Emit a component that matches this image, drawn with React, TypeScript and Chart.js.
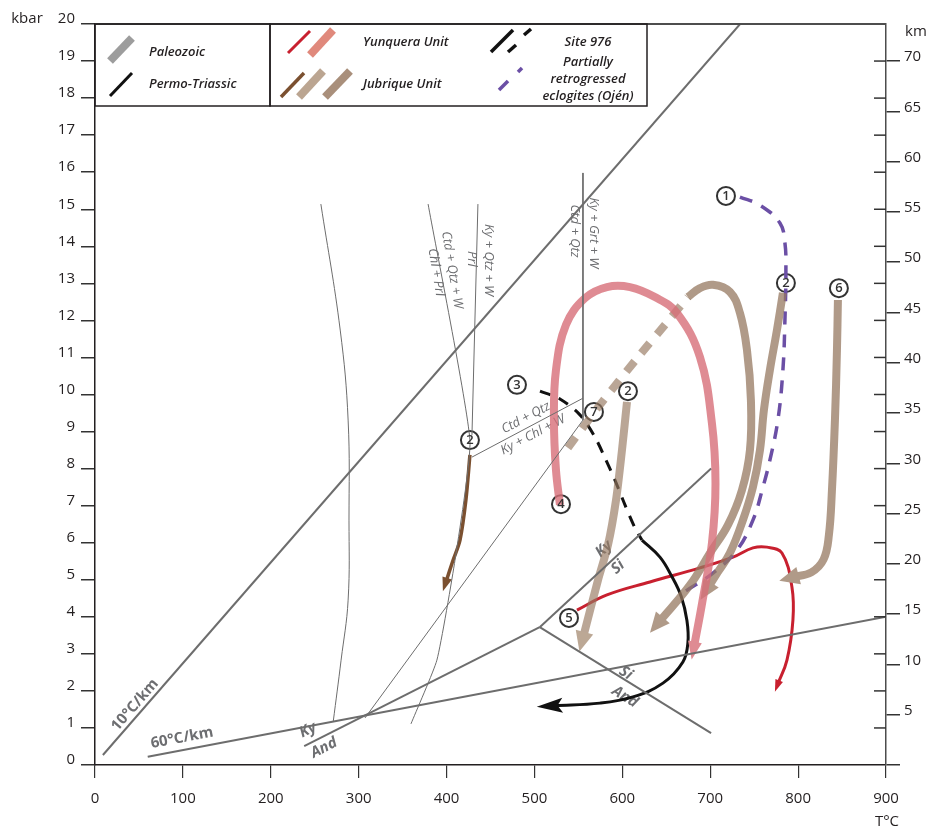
import React, { useEffect, useRef } from 'react';
import { Chart, registerables } from 'chart.js';
Chart.register(...registerables);

type Pt = [number, number];

// ---------- axis ranges (T in °C, P in kbar, depth in km) ----------
const T_MIN = 0, T_MAX = 900, T_STEP = 100;
const P_MIN = 0, P_MAX = 20, P_STEP = 1;
const KM_PER_KBAR = 3.684;
const KM_STEP = 5;

// ---------- reference lines ----------
const geotherm10: Pt[] = [[9, 0.27], [734, 20]];
const geotherm60: Pt[] = [[60, 0.22], [900, 4.0]];
const kyAnd: Pt[] = [[238, 0.51], [506, 3.72]];
const kySi: Pt[] = [[506, 3.72], [701, 8.0]];
const siAnd: Pt[] = [[506, 3.72], [701, 0.86]];
const prlLine: Pt[] = [[257, 15.14], [279, 11.74], [288, 9.31], [289, 6.61], [288, 4.45], [280, 2.83], [271, 1.16]];
const chlPrlLine: Pt[] = [[379, 15.14], [426.6, 8.77], [409.6, 5.53], [389, 2.83], [359.5, 1.11]];
const kyQtzLine: Pt[] = [[435.7, 15.14], [428.9, 8.91]];
const ctdKyChlLine: Pt[] = [[428.9, 8.31], [555.2, 9.9]];
const kyGrtLine: Pt[] = [[555.2, 15.98], [555.2, 9.31]];
const diagLine: Pt[] = [[555.2, 9.31], [307.2, 1.27]];

// ---------- P-T paths ----------
const yunqueraThick: Pt[] = [[529, 7.02], [524.5, 7.96], [522.2, 9.31], [524.5, 10.66], [535.9, 11.88], [557.5, 12.6], [582.5, 12.9], [608.7, 12.9], [637.1, 12.63], [662.1, 12.2], [688.3, 11.01], [701.9, 9.23], [706, 7.6], [702, 6.0], [691, 4.4], [681.5, 3.18]];
const yunqueraThin: Pt[] = [[548.4, 4.18], [582.5, 4.59], [631.4, 4.94], [688.3, 5.32], [725.9, 5.61], [748.6, 5.86], [764.5, 5.88], [781.6, 5.72], [793, 4.8], [794.1, 3.91], [787.3, 2.83], [777, 2.19]];
const site976Dashed: Pt[] = [[506.3, 10.09], [529, 9.88], [551.8, 9.45], [568.9, 8.85], [580.2, 8.29], [591.6, 7.69], [603, 7.02], [614.4, 6.4], [622.3, 6.07]];
const site976Solid: Pt[] = [[622.3, 6.07], [642.8, 5.61], [656, 5.1], [667, 4.55], [673.5, 3.9], [674.6, 3.3], [668.9, 2.78], [646.2, 2.21], [612.1, 1.84], [574.5, 1.67], [523.3, 1.6]];
const jubriqueThin: Pt[] = [[426.6, 8.37], [422, 7.15], [415.3, 6.07], [407, 5.5], [399.3, 4.94]];
const jubriqueA: Pt[] = [[605.3, 9.8], [599.6, 8.5], [592.8, 7.15], [583.7, 5.94], [572.3, 4.99], [555.2, 3.43]];
const jubriqueDashed: Pt[] = [[538.1, 8.56], [574.5, 9.72], [620, 11.07], [648.5, 11.88], [674.6, 12.63]];
const jubriqueLoop: Pt[] = [[674.6, 12.63], [688.3, 12.87], [703.1, 12.96], [722.4, 12.77], [733.8, 12.2], [741.8, 11.2], [746.3, 9.85], [745.2, 8.5], [736.1, 7.42], [720.2, 6.48], [699.7, 5.72], [677, 4.86], [641.7, 3.86]];
const jubriqueB: Pt[] = [[782.7, 12.74], [775.9, 11.74], [767.9, 10.66], [761.1, 9.58], [756.6, 8.5], [748.6, 7.5], [737.2, 6.61], [722.4, 5.72], [708.8, 5.21], [697.4, 4.78]];
const jubriqueC: Pt[] = [[845.3, 12.55], [844.2, 11.2], [841.9, 9.31], [838.5, 7.42], [835, 6.2], [829, 5.55], [815, 5.2], [794, 5.07]];
const eclogitePath: Pt[] = [[733.8, 15.33], [756.6, 15.11], [779.3, 14.63], [785, 14.09], [786.1, 13.36], [785, 12.01], [782.7, 10.66], [777, 9.31], [767.9, 8.23], [760, 7.5], [748.6, 6.61], [730.4, 5.8], [703.1, 5.18], [672.4, 4.7]];

// ---------- numbered sample points ----------
const stationT = [717.9, 786.1, 846.4, 480.1, 567.7, 606.4, 426.6, 530.2, 539.3];
const stationP = [15.36, 13.01, 12.87, 10.26, 9.53, 10.09, 8.77, 7.04, 3.97];
const stationLabels = ['1', '2', '6', '3', '7', '2', '2', '4', '5'];

// ---------- in-plot text labels ----------
const GRAY = '#6d6e71';
const labelTexts = ['10°C/km', '60°C/km', 'Ky', 'And', 'Ky', 'Si', 'Si', 'And', 'Ctd + Qtz', 'Ky + Chl + W', 'Ctd + Qtz + W', 'Chl + Prl', 'Ky + Qtz + W', 'Prl', 'Ky + Grt + W', 'Ctd + Qtz'];
const labelT = [45.5, 99, 242.3, 260.5, 579, 595, 604, 603, 490.3, 498.3, 406.2, 388, 448.3, 429, 567.7, 546.1];
const labelP = [1.62, 0.73, 0.94, 0.46, 5.83, 5.34, 2.48, 1.84, 9.37, 8.91, 13.36, 13.3, 13.63, 13.66, 14.36, 14.41];
const labelRot = [-48.9, -10.7, -27, -27, -42, -42, 32, 32, -28, -28, 80.7, 80.7, 90, 90, 90, 90];
const labelKind = ['geo', 'geo', 'min', 'min', 'min', 'min', 'min', 'min', 'rx', 'rx', 'rx', 'rx', 'rx', 'rx', 'rx', 'rx'];

const FONT = '"Open Sans", "DejaVu Sans", sans-serif';
const toXY = (a: Pt[]) => a.map(([x, y]) => ({ x, y }));

function lineDs(data: Pt[], color: string, width: number, extra: any = {}) {
  return {
    data: toXY(data), showLine: true, borderColor: color, backgroundColor: color,
    borderWidth: width, pointRadius: 0, tension: 0, fill: false, borderCapStyle: 'butt', borderJoinStyle: 'round', ...extra,
  };
}

const BROWN = 'rgba(150,120,96,0.75)';
const BROWN_SOLID = '#b09a88';
const BROWN_L = 'rgba(150,120,96,0.66)';
const BROWN_L_SOLID = '#bca895';
const PINK = 'rgba(215,110,120,0.8)';
const PINK_SOLID = '#df8b93';
const RED = '#c8202f';
const PURPLE = '#6b4fa5';

const arrowPlugin = {
  id: 'arrows',
  afterDatasetDraw(chart: any, args: any) {
    const ds = chart.data.datasets[args.index];
    if (!ds.arrow) return;
    const pts = args.meta.data;
    const n = pts.length;
    const a = pts[n - 2], b = pts[n - 1];
    const dx = b.x - a.x, dy = b.y - a.y;
    const d = Math.hypot(dx, dy) || 1;
    const ux = dx / d, uy = dy / d;
    const { len, width, color } = ds.arrow;
    const tx = b.x + ux * len * 0.7, ty = b.y + uy * len * 0.7;
    const bx = b.x - ux * len * 0.3, by = b.y - uy * len * 0.3;
    const px = -uy, py = ux;
    const ctx = chart.ctx;
    ctx.save();
    ctx.fillStyle = color;
    ctx.beginPath();
    ctx.moveTo(tx, ty);
    ctx.lineTo(bx + px * width / 2, by + py * width / 2);
    if (ds.arrow.notch) ctx.lineTo(b.x - ux * len * 0.1, b.y - uy * len * 0.1);
    ctx.lineTo(bx - px * width / 2, by - py * width / 2);
    ctx.closePath();
    ctx.fill();
    ctx.restore();
  },
};

function txt(ctx: any, s: string, x: number, y: number, rot: number, font: string, color: string, align = 'center') {
  ctx.save();
  ctx.translate(x, y);
  ctx.rotate((rot * Math.PI) / 180);
  ctx.font = font;
  ctx.fillStyle = color;
  ctx.textAlign = align;
  ctx.textBaseline = 'middle';
  ctx.fillText(s, 0, 0);
  ctx.restore();
}

function seg(ctx: any, x1: number, y1: number, x2: number, y2: number, w: number, c: string) {
  ctx.save();
  ctx.strokeStyle = c;
  ctx.lineWidth = w;
  ctx.lineCap = 'butt';
  ctx.beginPath();
  ctx.moveTo(x1, y1);
  ctx.lineTo(x2, y2);
  ctx.stroke();
  ctx.restore();
}

const decorPlugin = {
  id: 'decor',
  beforeDatasetsDraw(chart: any) {
    const ctx = chart.ctx;
    const xs = chart.scales.x, ys = chart.scales.y;
    labelTexts.forEach((s, i) => {
      const k = labelKind[i];
      const font = k === 'geo' ? `bold 15px ${FONT}` : k === 'min' ? `italic bold 15px ${FONT}` : `italic 13px ${FONT}`;
      txt(ctx, s, xs.getPixelForValue(labelT[i]), ys.getPixelForValue(labelP[i]), labelRot[i], font, GRAY);
    });
  },
  afterDatasetsDraw(chart: any) {
    const ctx = chart.ctx;
    const xs = chart.scales.x, ys = chart.scales.y;
    stationLabels.forEach((s, i) => {
      txt(ctx, s, xs.getPixelForValue(stationT[i]), ys.getPixelForValue(stationP[i]) + 0.5, 0, `600 13px ${FONT}`, '#333');
    });
  },
  afterDraw(chart: any) {
    const ctx = chart.ctx;
    const { left, right, top } = chart.chartArea;
    const ys = chart.scales.y;
    // top frame
    seg(ctx, left, top, right, top, 2, '#4d4d4d');
    // inner ticks on right axis (kbar)
    for (let p = P_MIN + 1; p < P_MAX; p++) {
      const y = ys.getPixelForValue(p);
      seg(ctx, right - 12, y, right, y, 1.5, '#333');
    }
    // legend boxes
    const lt = top, lb = 106;
    ctx.save();
    ctx.fillStyle = '#fff';
    ctx.fillRect(left + 1, lt + 1, 647 - left - 2, lb - lt - 2);
    ctx.restore();
    ctx.save();
    ctx.strokeStyle = '#231f20';
    ctx.lineWidth = 1.5;
    ctx.strokeRect(left, lt, 270 - left, lb - lt);
    ctx.strokeRect(270, lt, 647 - 270, lb - lt);
    ctx.restore();
    seg(ctx, 110, 61, 132, 38, 8, '#9d9d9d');
    seg(ctx, 110, 96, 132, 73, 3, '#111');
    seg(ctx, 288, 53, 310, 31, 3, RED);
    seg(ctx, 310, 55, 333, 30, 8, '#e0897c');
    seg(ctx, 281, 97, 304, 73, 3.5, '#7b5030');
    seg(ctx, 299, 97, 323, 71, 8, '#bba591');
    seg(ctx, 325, 97, 350, 71, 8, '#a98f7b');
    seg(ctx, 491, 52, 513, 30, 3.5, '#111');
    seg(ctx, 508, 52, 516, 45, 3.5, '#111');
    seg(ctx, 524, 35, 531, 29, 3.5, '#111');
    seg(ctx, 499, 90, 508, 81, 3.5, PURPLE);
    seg(ctx, 518, 72, 522, 68, 3.5, PURPLE);
    const lf = `italic 600 13px ${FONT}`;
    txt(ctx, 'Paleozoic', 149, 52, 0, lf, '#231f20', 'left');
    txt(ctx, 'Permo-Triassic', 149, 84, 0, lf, '#231f20', 'left');
    txt(ctx, 'Yunquera Unit', 363, 42, 0, lf, '#231f20', 'left');
    txt(ctx, 'Jubrique Unit', 363, 84, 0, lf, '#231f20', 'left');
    txt(ctx, 'Site 976', 588, 42, 0, lf, '#231f20');
    txt(ctx, 'Partially', 588, 62, 0, lf, '#231f20');
    txt(ctx, 'retrogressed', 588, 79, 0, lf, '#231f20');
    txt(ctx, 'eclogites (Ojén)', 588, 96, 0, lf, '#231f20');
    // axis titles
    txt(ctx, 'kbar', 27, 19, 0, `15px ${FONT}`, '#231f20');
    txt(ctx, 'km', 905, 32, 0, `15px ${FONT}`, '#231f20', 'left');
    txt(ctx, 'T°C', 887, 822, 0, `15px ${FONT}`, '#231f20');
  },
};

export default function App() {
  const ref = useRef<HTMLCanvasElement>(null);
  useEffect(() => {
    if (!ref.current) return;
    const datasets: any[] = [
      lineDs(geotherm10, '#6d6d6d', 2),
      lineDs(geotherm60, '#6d6d6d', 2),
      lineDs(kyAnd, '#6d6d6d', 2),
      lineDs(kySi, '#6d6d6d', 2),
      lineDs(siAnd, '#6d6d6d', 2),
      lineDs(prlLine, '#6d6d6d', 1, { tension: 0.4 }),
      lineDs(chlPrlLine, '#6d6d6d', 1, { tension: 0.15 }),
      lineDs(kyQtzLine, '#6d6d6d', 1),
      lineDs(ctdKyChlLine, '#6d6d6d', 1),
      lineDs(kyGrtLine, '#6d6d6d', 1),
      lineDs(diagLine, '#6d6d6d', 1),
      lineDs(yunqueraThick, PINK, 8, { tension: 0.4, arrow: { len: 18, width: 14, color: PINK_SOLID } }),
      lineDs(jubriqueA, BROWN_L, 8, { tension: 0.3, arrow: { len: 20, width: 18, color: BROWN_L_SOLID } }),
      lineDs(jubriqueDashed, BROWN_L, 8, { tension: 0.3, borderDash: [13, 11] }),
      lineDs(jubriqueLoop, BROWN, 8, { tension: 0.4, arrow: { len: 20, width: 18, color: BROWN_SOLID } }),
      lineDs(jubriqueB, BROWN, 8, { tension: 0.4, arrow: { len: 20, width: 18, color: BROWN_SOLID } }),
      lineDs(jubriqueC, BROWN, 8, { tension: 0.4, arrow: { len: 20, width: 18, color: BROWN_SOLID } }),
      lineDs(jubriqueThin, '#7b5030', 3.5, { tension: 0.3, arrow: { len: 14, width: 10, color: '#7b5030' } }),
      lineDs(eclogitePath, PURPLE, 3.5, { tension: 0.4, borderDash: [13, 10] }),
      lineDs(site976Dashed, '#111', 3, { tension: 0.3, borderDash: [11, 9] }),
      lineDs(site976Solid, '#111', 3, { tension: 0.4, arrow: { len: 26, width: 15, color: '#111', notch: true } }),
      lineDs(yunqueraThin, RED, 3, { tension: 0.4, arrow: { len: 12, width: 8, color: RED } }),
      {
        data: stationT.map((t, i) => ({ x: t, y: stationP[i] })),
        showLine: false, pointRadius: 9, pointBackgroundColor: '#fff', pointBorderColor: '#333', pointBorderWidth: 2,
      },
    ];
    const chart = new Chart(ref.current, {
      type: 'scatter',
      data: { datasets },
      options: {
        responsive: false,
        animation: false,
        events: [],
        layout: { padding: { top: 24, left: 0, right: 0, bottom: 0 } },
        plugins: { legend: { display: false }, tooltip: { enabled: false } },
        scales: {
          x: {
            type: 'linear', position: 'bottom', min: T_MIN, max: T_MAX,
            ticks: { stepSize: T_STEP, color: '#231f20', font: { family: FONT, size: 15 }, padding: 12, maxRotation: 0 },
            grid: { drawOnChartArea: false, drawTicks: true, tickLength: 13, color: '#333', lineWidth: 1.2 },
            border: { display: true, color: '#231f20', width: 1.5 },
            afterFit: (s: any) => { s.height = 65; },
          },
          y: {
            type: 'linear', position: 'left', min: P_MIN, max: P_MAX,
            ticks: { stepSize: P_STEP, color: '#231f20', font: { family: FONT, size: 15 }, padding: 6, labelOffset: -5 },
            grid: { drawOnChartArea: false, drawTicks: true, tickLength: 14, color: '#333', lineWidth: 1.5 },
            border: { display: true, color: '#231f20', width: 1.5 },
            afterFit: (s: any) => { s.width = 95; },
          },
          km: {
            type: 'linear', position: 'right', min: 0, max: P_MAX * KM_PER_KBAR,
            ticks: {
              stepSize: KM_STEP, includeBounds: false, color: '#231f20', font: { family: FONT, size: 15 }, padding: 4, labelOffset: -4,
              callback: (v: any) => (v === 0 ? '' : String(v)),
            },
            grid: { drawOnChartArea: false, drawTicks: true, tickLength: 14, color: '#333', lineWidth: 1.5 },
            border: { display: true, color: '#4d4d4d', width: 1.5 },
            afterFit: (s: any) => { s.width = 45; },
          },
        },
      } as any,
      plugins: [arrowPlugin, decorPlugin],
    });
    return () => chart.destroy();
  }, []);
  return (
    <div style={{ position: 'absolute', left: 0, top: 0, width: 931, height: 830, background: '#fff' }}>
      <canvas ref={ref} width={931} height={830} style={{ width: 931, height: 830, display: 'block' }} />
    </div>
  );
}
